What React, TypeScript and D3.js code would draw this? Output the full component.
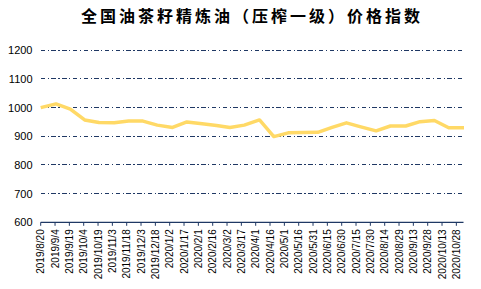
import React from "react";
import * as d3 from "d3";

const TITLE = "全国油茶籽精炼油（压榨一级）价格指数";

const dates: string[] = [
  "2019-08-20", "2019-09-05", "2019-09-20", "2019-10-05", "2019-10-20",
  "2019-11-05", "2019-11-20", "2019-12-05", "2019-12-20", "2020-01-05",
  "2020-01-20", "2020-02-05", "2020-02-20", "2020-03-05", "2020-03-20",
  "2020-04-05", "2020-04-20", "2020-05-05", "2020-05-20", "2020-06-05",
  "2020-06-20", "2020-07-05", "2020-07-20", "2020-08-05", "2020-08-20",
  "2020-09-05", "2020-09-20", "2020-10-05", "2020-10-20", "2020-11-05",
];

const values: number[] = [
  1000, 1013, 995, 957, 948,
  947, 953, 953, 939, 931,
  950, 944, 938, 931, 939,
  957, 899, 912, 913, 914,
  931, 947, 933, 919, 936,
  936, 951, 955, 930, 930,
];

const tickLabels: string[] = [
  "2019/8/20", "2019/9/4", "2019/9/19", "2019/10/4", "2019/10/19",
  "2019/11/3", "2019/11/18", "2019/12/3", "2019/12/18", "2020/1/2",
  "2020/1/17", "2020/2/1", "2020/2/16", "2020/3/2", "2020/3/17",
  "2020/4/1", "2020/4/16", "2020/5/1", "2020/5/16", "2020/5/31",
  "2020/6/15", "2020/6/30", "2020/7/15", "2020/7/30", "2020/8/14",
  "2020/8/29", "2020/9/13", "2020/9/28", "2020/10/13", "2020/10/28",
];

const yTicks: number[] = [600, 700, 800, 900, 1000, 1100, 1200];

const parseIso = (s: string) => {
  const [y, m, d] = s.split("-").map(Number);
  return new Date(Date.UTC(y, m - 1, d));
};
const parseLabel = (s: string) => {
  const [y, m, d] = s.split("/").map(Number);
  return new Date(Date.UTC(y, m - 1, d));
};

const W = 481;
const H = 289;
const LEFT = 40.7;
const RIGHT = 464;
const AXIS_END = 463.5;
const GRID_END = 462;
const TOP = 50.3;
const BOTTOM = 222.3;
const NAVY = "#1F3864";

export default function App() {
  const pts = dates.map((d, i) => ({ x: parseIso(d), y: values[i] }));
  const x = d3
    .scaleUtc()
    .domain([parseIso(dates[0]), parseIso(dates[dates.length - 1])])
    .range([LEFT, RIGHT]);
  const y = d3.scaleLinear().domain([600, 1200]).range([BOTTOM, TOP]);
  const line = d3
    .line<{ x: Date; y: number }>()
    .x((d) => x(d.x))
    .y((d) => y(d.y));

  return (
    <svg
      width={W}
      height={H}
      style={{ position: "absolute", left: 0, top: 0, background: "#fff" }}
    >
      <text
        x={252}
        y={22}
        textAnchor="middle"
        fontFamily="'Noto Sans CJK SC', sans-serif"
        fontWeight="bold"
        fontSize={16}
        letterSpacing={3}
        fill="#000"
      >
        {TITLE}
      </text>
      {yTicks
        .filter((t) => t !== 600)
        .map((t) => (
          <line
            key={"g" + t}
            x1={LEFT}
            x2={GRID_END}
            y1={y(t)}
            y2={y(t)}
            stroke={NAVY}
            strokeWidth={1}
            strokeDasharray="4.5,2.5,1.2,2.5"
            shapeRendering="crispEdges"
          />
        ))}
      {yTicks.map((t) => (
        <text
          key={"yl" + t}
          x={32.5}
          y={y(t)}
          dy="0.36em"
          textAnchor="end"
          fontFamily="'Liberation Sans', Arial, sans-serif"
          fontSize={11}
          fill="#000"
        >
          {t}
        </text>
      ))}
      <line
        x1={LEFT}
        x2={AXIS_END}
        y1={BOTTOM}
        y2={BOTTOM}
        stroke={NAVY}
        strokeWidth={1.2}
      />
      {tickLabels.map((l) => {
        const tx = x(parseLabel(l));
        return (
          <g key={"xt" + l}>
            <line
              x1={tx}
              x2={tx}
              y1={BOTTOM}
              y2={BOTTOM + 3.5}
              stroke={NAVY}
              strokeWidth={1}
            />
            <text
              transform={`translate(${tx},${BOTTOM + 7}) rotate(-90)`}
              dy="0.36em"
              textAnchor="end"
              fontFamily="'Liberation Sans', Arial, sans-serif"
              fontSize={10}
              fill="#000"
            >
              {l}
            </text>
          </g>
        );
      })}
      <path
        d={line(pts) || ""}
        fill="none"
        stroke="#FFD966"
        strokeWidth={3.5}
        strokeLinejoin="round"
        strokeLinecap="butt"
      />
    </svg>
  );
}
